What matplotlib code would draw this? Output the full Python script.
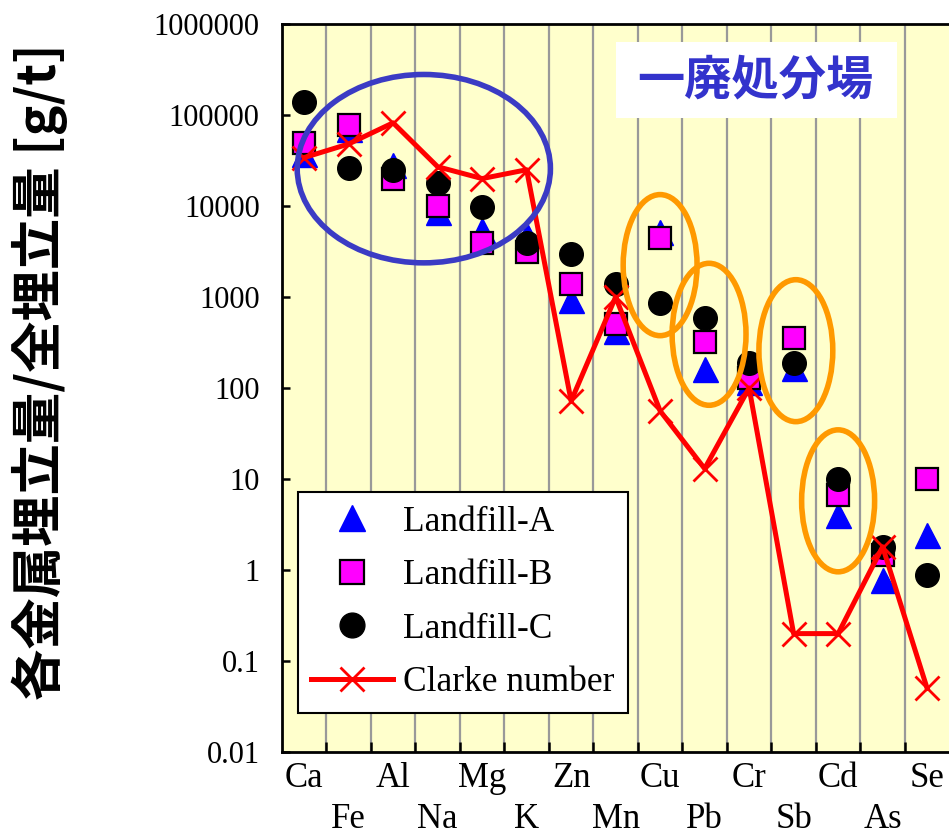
import matplotlib
matplotlib.use("Agg")
import matplotlib.pyplot as plt
from matplotlib.patches import Ellipse, Rectangle
import numpy as np

# data (g/t)
elements = ['Ca', 'Fe', 'Al', 'Na', 'Mg', 'K', 'Zn', 'Mn', 'Cu', 'Pb', 'Cr', 'Sb', 'Cd', 'As', 'Se']
landfill_a = [37000, 70000, 28000, 8500, 5500, 4800, 930, 420, 5200, 160, 115, 165, 4.0, 0.78, 2.4]
landfill_b = [49000, 77000, 20000, 10000, 3900, 3100, 1400, 510, 4500, 320, 130, 350, 6.6, 1.45, 10]
landfill_c = [138000, 26000, 25000, 18000, 9700, 3900, 3000, 1400, 850, 590, 190, 190, 10, 1.8, 0.88]
clarke = [34000, 48000, 82000, 27000, 20000, 25000, 72, 1000, 56, 13, 100, 0.2, 0.2, 1.8, 0.05]

ytick_vals = [0.01, 0.1, 1, 10, 100, 1000, 10000, 100000, 1000000]
ytick_labels = ['0.01', '0.1', '1', '10', '100', '1000', '10000', '100000', '1000000']

# highlight ellipses: (x index, y centre value, width in categories, height in decades, colour)
ellipses = [
    (2.69, 10 ** 4.41, 5.69, 2.07, '#3B3BC4'),
    (8.0, 10 ** 3.35, 1.66, 1.55, '#FF9900'),
    (9.1, 10 ** 2.59, 1.66, 1.56, '#FF9900'),
    (11.05, 10 ** 2.41, 1.66, 1.56, '#FF9900'),
    (12.0, 10 ** 0.76, 1.64, 1.56, '#FF9900'),
]

serif = 'Liberation Serif'
cjk = ['Noto Sans CJK JP', 'DejaVu Sans']

fig = plt.figure(figsize=(9.49, 8.35), dpi=100)
ax = fig.add_axes([0.297, 0.0994, 0.7034, 0.8719])
ax.set_facecolor('#FFFFCC')

x = np.arange(len(elements))

ax.plot(x, landfill_a, linestyle='none', marker='^', markersize=18, color='#0000FF',
        markeredgecolor='#0000FF', zorder=3, label='Landfill-A')
ax.plot(x, landfill_b, linestyle='none', marker='s', markersize=16, color='#FF00FF',
        markeredgecolor='black', markeredgewidth=1.6, zorder=4, label='Landfill-B')
ax.plot(x, landfill_c, linestyle='none', marker='o', markersize=17, color='black',
        zorder=5, label='Landfill-C')
ax.plot(x, clarke, color='#FF0000', lw=3.6, marker='x', markersize=17, markeredgewidth=2,
        zorder=6, label='Clarke number')

ax.set_yscale('log')
ax.set_ylim(0.01, 1e6)
ax.set_xlim(-0.5, 14.5)
ax.set_yticks(ytick_vals)
ax.set_yticklabels(ytick_labels, fontfamily=serif, fontsize=22)
ax.yaxis.set_minor_locator(matplotlib.ticker.NullLocator())
ax.tick_params(axis='y', direction='in', length=6, width=1.8, pad=16)

xlabels = [e if i % 2 == 0 else '\n' + e for i, e in enumerate(elements)]
ax.set_xticks(x)
ax.set_xticklabels(xlabels, fontfamily=serif, fontsize=25, linespacing=1.35)
ax.tick_params(axis='x', which='major', length=0, pad=7)
ax.set_xticks(np.arange(0.5, len(elements) - 1, 1), minor=True)
ax.tick_params(axis='x', which='minor', direction='in', length=7, width=1.8, color='black')
ax.grid(which='minor', axis='x', color='#999999', lw=1.6, zorder=1)

for s in ['left', 'bottom', 'top']:
    ax.spines[s].set_linewidth(2)
ax.spines['right'].set_visible(False)

# ellipses, placed from data coords into axes fraction
to_axes = ax.transData + ax.transAxes.inverted()
for xc, yc, w, h, col in ellipses:
    cx, cy = to_axes.transform((xc, yc))
    e = Ellipse((cx, cy), w / len(elements), h / 8.0, transform=ax.transAxes,
                fill=False, edgecolor=col, lw=4, zorder=7)
    ax.add_patch(e)

# title box
ax.add_patch(Rectangle((0.5004, 0.8709), 0.421, 0.1044, transform=ax.transAxes,
                       facecolor='white', edgecolor='none', zorder=8))
ax.text(0.710, 0.922, '一廃処分場', transform=ax.transAxes, ha='center', va='center',
        fontsize=34, fontweight='bold', color='#3333CC', family=cjk, zorder=9)

leg = ax.legend(loc='lower left', bbox_to_anchor=(0.024, 0.054), borderaxespad=0,
                prop={'family': serif, 'size': 25.5}, frameon=True, fancybox=False,
                framealpha=1, edgecolor='black', handlelength=2.3, handletextpad=0.3,
                labelspacing=0.58, borderpad=0.38, markerscale=1.05)
leg.get_frame().set_linewidth(1.5)
leg.set_zorder(10)

fig.text(0.042, 0.555, '各金属埋立量/全埋立量 [g/t]', rotation=90, ha='center', va='center',
         fontsize=37, fontweight='bold', family=cjk)

fig.savefig('out.png', dpi=100)
